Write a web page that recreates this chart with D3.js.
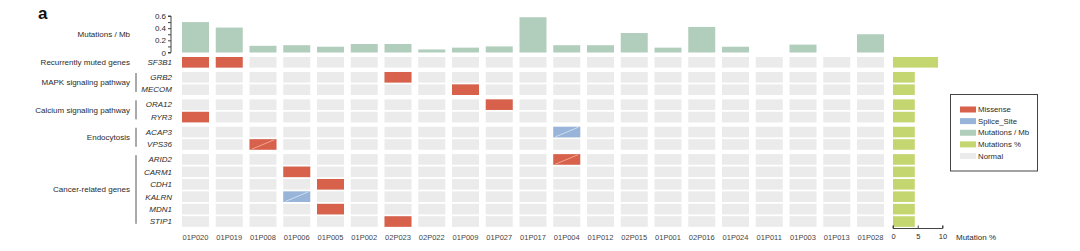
<!DOCTYPE html>
<html>
<head>
<meta charset="utf-8">
<script src="https://cdn.jsdelivr.net/npm/d3@7"></script>
<style>
  body { margin: 0; background: #fff; }
  svg { display: block; font-family: "Liberation Sans", Arial, sans-serif; }
</style>
</head>
<body>
<div id="oncoprint"></div>
<script>
// 1: DATA
const samples = ["01P020", "01P019", "01P008", "01P006", "01P005", "01P002", "02P023", "02P022",
    "01P009", "01P027", "01P017", "01P004", "01P012", "02P015", "01P001", "02P016",
    "01P024", "01P011", "01P003", "01P013", "01P028"];
const mutPerMb = [0.50, 0.41, 0.11, 0.12, 0.095, 0.14, 0.14, 0.05, 0.08, 0.10, 0.58,
    0.12, 0.12, 0.32, 0.08, 0.42, 0.095, 0, 0.13, 0, 0.30];

const genes = ["SF3B1", "GRB2", "MECOM", "ORA12", "RYR3", "ACAP3", "VPS36",
    "ARID2", "CARM1", "CDH1", "KALRN", "MDN1", "STIP1"];
const geneGroup = [0, 1, 1, 2, 2, 3, 3, 4, 4, 4, 4, 4, 4];
const groupNames = ["Recurrently muted genes", "MAPK signaling pathway", "Calcium signaling pathway",
    "Endocytosis", "Cancer-related genes"];
const mutPct = [9.1, 4.4, 4.4, 4.4, 4.4, 4.4, 4.4, 4.4, 4.4, 4.4, 4.4, 4.4, 4.4];

// gene, sample, type, split (cell crossed by a thin diagonal)
const mutations = [
    ["SF3B1", "01P020", "Missense", false],
    ["SF3B1", "01P019", "Missense", false],
    ["GRB2", "02P023", "Missense", false],
    ["MECOM", "01P009", "Missense", false],
    ["ORA12", "01P027", "Missense", false],
    ["RYR3", "01P020", "Missense", false],
    ["ACAP3", "01P004", "Splice_Site", true],
    ["VPS36", "01P008", "Missense", true],
    ["ARID2", "01P004", "Missense", true],
    ["CARM1", "01P006", "Missense", false],
    ["CDH1", "01P005", "Missense", false],
    ["KALRN", "01P006", "Splice_Site", true],
    ["MDN1", "01P005", "Missense", false],
    ["STIP1", "02P023", "Missense", false]
];

const legendItems = ["Missense", "Splice_Site", "Mutations / Mb", "Mutations %", "Normal"];
const colors = {
    "Missense": "#d8614c",
    "Splice_Site": "#98b4d8",
    "Mutations / Mb": "#b1cebd",
    "Mutations %": "#c3d670",
    "Normal": "#ebebeb"
};
const splitColors = { "Missense": "#f3ab98", "Splice_Site": "#d3e2f3" };

// 2: SVG
const W = 1080, H = 251;
const svg = d3.select("#oncoprint")
    .append("svg")
    .attr("width", W)
    .attr("height", H);

const textCol = "#2b2b2b";

// 3: SCALES
const x = d3.scaleBand()
    .domain(samples)
    .range([182, 884])
    .paddingInner(0.2)
    .paddingOuter(0);

const rowStep = 12.42, groupGap = 2.55, rowH = 10.6, rowTop = 57;
const rowSlot = d3.scaleLinear().domain([0, 1]).range([rowTop, rowTop + rowStep]);
const y = g => {
    const i = genes.indexOf(g);
    return rowSlot(i + geneGroup[i] * groupGap / rowStep);
};

const yBar = d3.scaleLinear().domain([0, 0.6]).range([52.5, 16]);
const xPct = d3.scaleLinear().domain([0, 10]).range([893, 942.5]);

// 4: TOP BARS (mutations / Mb)
svg.append("g").selectAll("rect")
    .data(samples)
    .enter()
    .append("rect")
    .attr("x", d => x(d))
    .attr("width", x.bandwidth())
    .attr("y", (d, i) => yBar(mutPerMb[i]))
    .attr("height", (d, i) => yBar(0) - yBar(mutPerMb[i]))
    .attr("fill", colors["Mutations / Mb"]);

const yAxis = svg.append("g")
    .attr("transform", "translate(171,0)")
    .call(d3.axisLeft(yBar)
        .tickValues(d3.range(0, 0.61, 0.1))
        .tickSize(3)
        .tickPadding(2)
        .tickFormat(d => (Math.round(d * 10) % 2 === 0) ? d3.format("~g")(+d.toFixed(1)) : ""));
yAxis.select(".domain").attr("stroke", "#444").attr("d", `M-3,${yBar(0.6)}H0V${yBar(0)}H-3`);
yAxis.selectAll(".tick line").attr("stroke", "#444");
yAxis.selectAll("text").attr("font-size", 8).attr("fill", textCol)
    .attr("font-family", "Liberation Sans, Arial, sans-serif");

svg.append("text")
    .attr("x", 130).attr("y", 36.5)
    .attr("text-anchor", "end")
    .attr("font-size", 8).attr("fill", textCol)
    .text("Mutations / Mb");

// 5: GRID OF CELLS
const cells = [];
genes.forEach(g => samples.forEach(s => cells.push({ gene: g, sample: s })));

svg.append("g").selectAll("rect")
    .data(cells)
    .enter()
    .append("rect")
    .attr("x", d => x(d.sample))
    .attr("y", d => y(d.gene))
    .attr("width", x.bandwidth())
    .attr("height", rowH)
    .attr("fill", colors["Normal"]);

const mutG = svg.append("g");
mutG.selectAll("rect")
    .data(mutations)
    .enter()
    .append("rect")
    .attr("x", d => x(d[1]))
    .attr("y", d => y(d[0]))
    .attr("width", x.bandwidth())
    .attr("height", rowH)
    .attr("fill", d => colors[d[2]]);

mutG.selectAll("line")
    .data(mutations.filter(d => d[3]))
    .enter()
    .append("line")
    .attr("x1", d => x(d[1]) + 2)
    .attr("y1", d => y(d[0]) + rowH - 0.5)
    .attr("x2", d => x(d[1]) + x.bandwidth() - 2)
    .attr("y2", d => y(d[0]) + 0.5)
    .attr("stroke", d => splitColors[d[2]])
    .attr("stroke-width", 0.9);

// 6: GENE + GROUP LABELS
svg.append("g").selectAll("text")
    .data(genes)
    .enter()
    .append("text")
    .attr("x", 172)
    .attr("y", d => y(d) + rowH / 2)
    .attr("dy", "0.35em")
    .attr("text-anchor", "end")
    .attr("font-size", 8)
    .attr("font-style", "italic")
    .attr("fill", textCol)
    .text(d => d);

const groups = groupNames.map((name, gi) => {
    const members = genes.filter((g, i) => geneGroup[i] === gi);
    return { name, top: y(members[0]), bottom: y(members[members.length - 1]) + rowH, n: members.length };
});

svg.append("g").selectAll("text")
    .data(groups)
    .enter()
    .append("text")
    .attr("x", 130)
    .attr("y", d => d.n > 1 ? (d.top + d.bottom) / 2 - 1 : d.top + rowH / 2)
    .attr("dy", "0.35em")
    .attr("text-anchor", "end")
    .attr("font-size", 8)
    .attr("fill", textCol)
    .text(d => d.name);

svg.append("g").selectAll("line")
    .data(groups.filter(d => d.n > 1))
    .enter()
    .append("line")
    .attr("x1", 136).attr("x2", 136)
    .attr("y1", d => d.top + 1)
    .attr("y2", d => d.bottom - 3)
    .attr("stroke", "#555")
    .attr("stroke-width", 1);

// 7: SAMPLE LABELS
svg.append("g").selectAll("text")
    .data(samples)
    .enter()
    .append("text")
    .attr("x", d => x(d) + x.bandwidth() / 2)
    .attr("y", 237.5)
    .attr("dy", "0.35em")
    .attr("text-anchor", "middle")
    .attr("font-size", 7.5)
    .attr("fill", "#444")
    .text(d => d);

// 8: MUTATION % BARS
svg.append("g").selectAll("rect")
    .data(genes)
    .enter()
    .append("rect")
    .attr("x", xPct(0))
    .attr("y", d => y(d))
    .attr("width", (d, i) => xPct(mutPct[i]) - xPct(0))
    .attr("height", rowH)
    .attr("fill", colors["Mutations %"]);

const xAxis = svg.append("g")
    .attr("transform", "translate(0,228.5)")
    .call(d3.axisBottom(xPct).tickValues([0, 5, 10]).tickSize(-3).tickPadding(5));
xAxis.select(".domain").attr("stroke", "#444").attr("d", `M${xPct(0)},-3V0H${xPct(10)}V-3`);
xAxis.selectAll(".tick line").attr("stroke", "#444");
xAxis.selectAll("text").attr("font-size", 7.5).attr("fill", textCol)
    .attr("font-family", "Liberation Sans, Arial, sans-serif");

svg.append("text")
    .attr("x", 956).attr("y", 240)
    .attr("font-size", 8).attr("fill", textCol)
    .text("Mutation %");

// 9: LEGEND
const legend = svg.append("g");
legend.append("rect")
    .attr("x", 950.5).attr("y", 94.5)
    .attr("width", 87).attr("height", 76.5)
    .attr("fill", "#fff")
    .attr("stroke", "#444")
    .attr("stroke-width", 1);

const ly = d3.scalePoint().domain(legendItems).range([109.5, 156]);
legend.selectAll(".sw")
    .data(legendItems)
    .enter()
    .append("rect")
    .attr("class", "sw")
    .attr("x", 960).attr("y", d => ly(d) - 3)
    .attr("width", 16).attr("height", 6)
    .attr("fill", d => colors[d]);

legend.selectAll("text")
    .data(legendItems)
    .enter()
    .append("text")
    .attr("x", 978).attr("y", d => ly(d))
    .attr("dy", "0.35em")
    .attr("font-size", 7.8)
    .attr("fill", textCol)
    .text(d => d);

// panel letter
svg.append("text")
    .attr("x", 38).attr("y", 18.5)
    .attr("font-size", 17)
    .attr("font-weight", "bold")
    .attr("fill", "#111")
    .text("a");
</script>
</body>
</html>
